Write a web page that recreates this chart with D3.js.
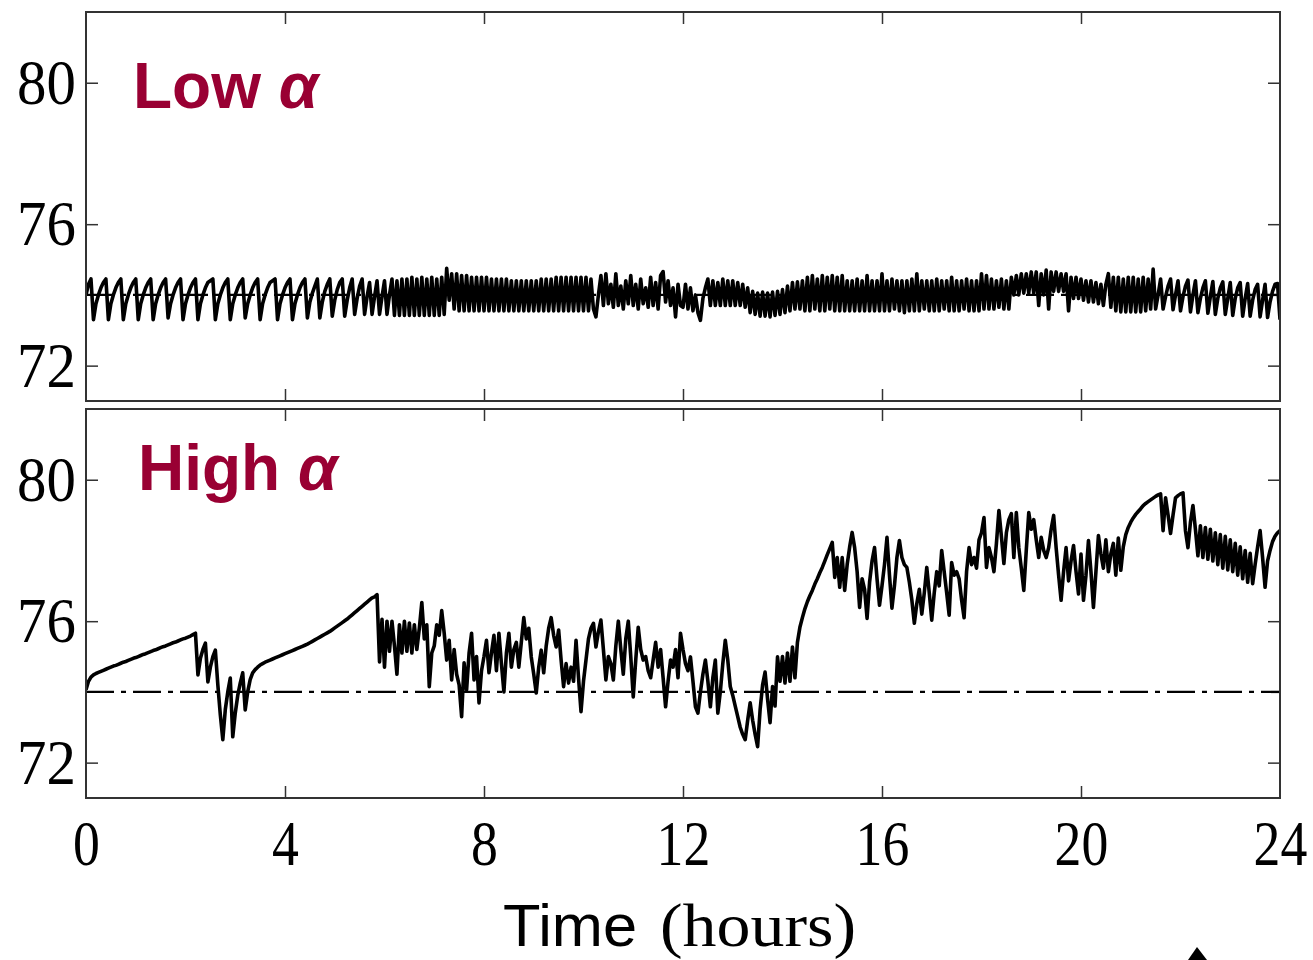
<!DOCTYPE html>
<html>
<head>
<meta charset="utf-8">
<script src="https://cdn.jsdelivr.net/npm/d3@7"></script>
<style>
body { margin: 0; background: #fff; }
.frame { fill: none; stroke: #333; stroke-width: 2; }
.axis path { display: none; }
.axis line { stroke: #333; stroke-width: 1.5; }
.axis text { font-family: "Liberation Serif", "Times New Roman", serif; font-size: 64px; fill: #000; }
.series { fill: none; stroke: #000; stroke-width: 3.6; stroke-linejoin: round; }
.ref { stroke: #000; stroke-width: 2.4; stroke-dasharray: 28, 7, 5, 7; }
.tag { font-family: "Liberation Sans", Arial, sans-serif; font-weight: bold; font-size: 64px; fill: #990033; }
</style>
</head>
<body>
<svg></svg>
<script>
var width = 1313,
    height = 960,
    left = 86,
    right = 1280,
    panelHeight = 389;

// one sample every 0.05 h, one row per hour
var sampleStep = 0.05;
var hourTicks = [0, 4, 8, 12, 16, 20, 24];
var tempTicks = [72, 76, 80];
var setpoint = 74;

var lowAlpha = [
  74.0,74.3,74.45,73.3,73.75,74.0,74.2,74.35,74.45,73.3,73.75,74.0,74.2,74.35,74.45,73.3,73.75,74.0,74.2,74.35,
  74.45,73.3,73.75,74.0,74.2,74.35,74.45,73.3,73.75,74.0,74.2,74.35,74.45,73.35,73.75,74.0,74.2,74.35,74.45,73.3,
  73.75,74.0,74.2,74.35,74.45,73.3,73.75,74.0,74.2,74.35,74.4,74.45,73.3,73.75,74.0,74.2,74.35,74.45,73.3,73.75,
  74.0,74.2,74.35,74.45,73.35,73.75,74.0,74.2,74.35,74.45,73.3,73.75,74.0,74.2,74.35,74.4,74.45,73.3,73.75,74.0,
  74.2,74.35,74.45,73.3,73.75,74.0,74.2,74.35,74.45,73.35,73.8,74.05,74.25,74.45,73.35,73.8,74.1,74.3,74.45,73.4,
  73.85,74.15,74.35,74.45,73.4,73.85,74.2,74.45,73.45,73.9,74.25,74.45,73.45,73.95,74.35,73.45,73.95,74.4,73.45,73.95,
  74.4,73.45,74.0,74.45,73.42,74.4,73.42,74.45,73.42,74.45,73.42,74.5,73.42,74.45,73.42,74.5,73.42,74.45,73.42,74.5,
  73.42,74.45,73.42,74.5,73.45,74.75,73.85,74.6,73.6,74.6,73.55,74.55,73.55,74.55,73.55,74.5,73.55,74.5,73.55,74.5,
  73.55,74.5,73.55,74.45,73.55,74.45,73.55,74.45,73.55,74.45,73.55,74.4,73.55,74.4,73.55,74.4,73.55,74.4,73.55,74.4,
  73.55,74.4,73.55,74.45,73.55,74.45,73.55,74.45,73.55,74.5,73.55,74.5,73.55,74.5,73.55,74.5,73.55,74.5,73.55,74.5,
  73.55,74.5,73.55,74.45,73.6,73.38,74.0,74.55,73.7,74.6,73.75,74.3,73.65,74.6,73.7,74.25,73.6,74.4,73.75,74.55,
  73.7,74.3,73.6,74.45,73.75,74.2,73.65,74.5,73.7,74.35,73.6,74.55,74.66,73.8,74.4,73.7,74.2,73.38,74.3,73.7,
  73.65,74.3,73.6,74.2,73.55,74.0,73.5,73.28,73.9,74.2,74.45,73.7,74.4,73.7,74.35,73.7,74.45,73.7,74.4,73.7,
  74.4,73.7,74.35,73.7,74.3,73.65,74.2,73.5,74.1,73.45,74.05,73.4,74.08,73.4,74.05,73.38,74.08,73.42,74.1,73.45,
  74.15,73.5,74.25,73.55,74.35,73.6,74.37,73.6,74.4,73.55,74.5,73.55,74.55,73.6,74.45,73.55,74.55,73.55,74.5,73.6,
  74.55,73.55,74.5,73.55,74.55,73.55,74.4,73.55,74.4,73.55,74.45,73.55,74.4,73.55,74.55,73.55,74.4,73.55,74.4,73.55,
  74.6,73.55,74.4,73.55,74.45,73.6,74.4,73.55,74.4,73.5,74.4,73.55,74.45,73.55,74.6,73.55,74.4,73.6,74.4,73.55,
  74.4,73.55,74.45,73.55,74.4,73.6,74.4,73.55,74.5,73.55,74.4,73.55,74.4,73.6,74.45,73.55,74.4,73.55,74.4,73.55,
  74.6,73.6,74.55,73.6,74.45,73.6,74.4,73.65,74.45,73.6,74.4,73.6,74.5,74.0,74.55,74.0,74.6,74.05,74.6,74.05,
  74.65,74.05,74.65,73.7,74.6,74.0,74.7,73.6,74.65,74.1,74.65,74.1,74.6,74.1,74.6,73.55,74.5,73.9,74.5,73.9,
  74.45,73.85,74.4,73.8,74.4,73.8,74.35,73.75,74.3,73.7,74.3,74.6,73.65,74.5,73.55,74.5,73.52,74.45,73.52,74.5,
  73.52,74.5,73.52,74.45,73.52,74.5,73.55,74.45,73.6,74.73,73.6,74.0,74.45,73.6,73.95,74.25,74.45,73.58,74.0,74.4,
  73.55,73.95,74.25,74.42,73.52,74.0,74.4,73.5,73.9,74.2,74.4,73.48,73.95,74.38,73.45,73.9,74.2,74.37,73.45,73.9,
  74.35,73.42,73.9,74.2,74.35,73.4,73.9,74.32,73.4,73.85,74.15,74.3,73.38,73.85,74.3,73.36,73.8,74.1,74.3,74.32,
  73.3
];

var highAlpha = [
  74.06,74.3,74.42,74.48,74.52,74.55,74.58,74.61,74.64,74.67,74.7,74.73,74.75,74.78,74.81,74.84,74.86,74.89,74.92,74.95,
  74.97,75.0,75.03,75.06,75.08,75.11,75.14,75.17,75.19,75.22,75.25,75.28,75.3,75.33,75.36,75.39,75.41,75.44,75.47,75.5,
  75.52,75.55,75.58,75.62,75.66,74.48,74.95,75.2,75.38,74.28,74.7,75.0,75.18,74.2,73.35,72.65,73.5,74.0,74.39,72.73,
  73.4,73.9,74.25,74.54,73.49,74.0,74.35,74.54,74.63,74.7,74.76,74.8,74.84,74.87,74.9,74.93,74.96,74.99,75.02,75.05,
  75.08,75.11,75.14,75.17,75.2,75.23,75.26,75.29,75.32,75.35,75.39,75.43,75.47,75.51,75.55,75.59,75.63,75.67,75.71,75.76,
  75.81,75.86,75.91,75.96,76.01,76.06,76.12,76.18,76.24,76.3,76.36,76.42,76.48,76.54,76.6,76.66,76.69,76.75,74.85,76.05,
  74.7,76.0,75.15,76.0,75.3,74.5,75.9,75.1,76.0,75.15,75.95,75.1,75.9,75.2,75.8,76.53,75.5,75.9,74.15,75.1,
  75.3,75.9,75.6,76.3,75.66,74.9,75.46,74.34,75.2,74.5,74.2,73.3,74.82,74.06,75.1,75.66,74.34,75.0,73.69,74.6,
  75.0,75.46,74.54,75.1,75.6,74.6,75.66,74.8,74.0,75.1,75.66,74.7,75.2,75.4,74.7,75.4,76.1,75.5,75.8,74.99,
  74.5,73.97,74.7,75.18,74.54,75.3,75.8,76.1,75.6,75.27,75.75,74.9,74.15,74.8,74.25,74.7,74.3,75.46,74.4,73.44,
  74.3,74.9,75.5,75.8,75.94,75.27,75.7,76.03,75.2,74.34,75.0,74.8,74.34,75.3,76.0,75.2,74.5,75.5,76.0,75.0,
  73.86,74.9,75.83,75.2,74.9,75.0,74.6,74.4,74.9,75.4,74.7,75.2,74.4,73.58,74.3,74.9,74.7,75.2,74.4,75.66,
  75.2,74.8,74.6,74.99,74.3,73.58,73.4,74.0,74.5,74.9,74.3,73.58,74.4,74.9,73.4,74.0,74.8,75.46,74.9,74.15,
  73.9,73.6,73.3,73.0,72.8,72.65,73.2,73.69,73.2,72.8,72.45,73.5,74.2,74.56,73.8,73.13,74.15,73.6,74.99,74.3,
  75.0,74.25,75.1,74.3,75.27,74.4,75.4,75.83,76.1,76.35,76.55,76.72,76.87,77.05,77.2,77.37,77.52,77.7,77.88,78.05,
  78.23,77.24,77.8,76.96,77.8,76.87,77.6,78.1,78.51,78.08,77.4,76.39,77.2,76.9,76.08,77.1,77.7,78.08,77.2,76.45,
  77.0,77.6,78.37,77.3,76.37,77.0,77.8,78.28,77.8,77.6,77.52,77.1,76.6,75.94,76.5,76.9,76.2,76.8,77.52,76.8,
  76.03,76.8,77.4,77.0,78.0,77.4,76.8,76.17,77.66,77.3,77.4,77.2,76.6,76.1,77.4,78.08,77.6,77.8,77.5,78.3,
  78.5,78.93,77.52,78.08,77.8,77.4,78.2,79.13,78.4,77.63,78.5,78.87,79.04,77.8,79.07,78.08,77.5,76.87,78.0,79.07,
  78.6,78.87,78.3,77.8,78.37,78.0,77.8,78.08,78.6,78.99,78.08,77.3,76.59,77.4,78.08,77.14,77.7,78.14,77.4,76.77,
  77.9,76.59,77.3,78.28,77.4,76.39,77.4,78.42,77.9,77.5,78.3,77.4,77.9,78.2,77.3,78.35,77.44,78.1,78.45,78.65,
  78.8,78.92,79.02,79.1,79.18,79.27,79.33,79.38,79.43,79.48,79.53,79.57,79.6,78.56,79.49,79.0,78.48,79.0,79.49,79.55,
  79.6,79.63,78.56,78.08,78.8,79.27,78.6,77.85,78.7,77.8,78.65,77.75,78.6,77.7,78.5,77.6,78.45,77.5,78.4,77.45,
  78.3,77.4,78.2,77.3,78.1,77.2,78.0,77.1,77.92,77.06,77.6,78.1,78.56,77.8,76.96,77.7,78.0,78.25,78.4,78.5,
  78.56
];

var panels = [
  { top: 12, values: lowAlpha, tag: "Low", tagX: 133, tagY: 108, labels: false },
  { top: 409, values: highAlpha, tag: "High", tagX: 138, tagY: 490, labels: true }
];

var svg = d3.select("svg")
    .attr("width", width)
    .attr("height", height);

svg.append("rect")
    .attr("width", width)
    .attr("height", height)
    .attr("fill", "#fff");

var x = d3.scaleLinear()
    .domain([0, 24])
    .range([left, right]);

panels.forEach(function (p, k) {
    var y = d3.scaleLinear()
        .domain([71, 82])
        .range([p.top + panelHeight, p.top]);

    var g = svg.append("g");

    g.append("clipPath")
        .attr("id", "clip" + k)
        .append("rect")
        .attr("x", left)
        .attr("y", p.top)
        .attr("width", right - left)
        .attr("height", panelHeight);

    var inner = g.append("g").attr("clip-path", "url(#clip" + k + ")");

    inner.append("line")
        .attr("class", "ref")
        .attr("x1", x(0))
        .attr("x2", x(24))
        .attr("y1", y(setpoint))
        .attr("y2", y(setpoint));

    var line = d3.line()
        .x((d, i) => x(i * sampleStep))
        .y(d => y(d));

    inner.append("path")
        .datum(p.values)
        .attr("class", "series")
        .attr("d", line);

    // ticks point inward on all four sides
    g.append("g")
        .attr("class", "axis")
        .attr("transform", "translate(" + left + ",0)")
        .call(d3.axisLeft(y).tickValues(tempTicks).tickSize(-12).tickPadding(11))
        .selectAll("text")
        .attr("transform", "scale(0.92,1)");

    g.append("g")
        .attr("class", "axis")
        .attr("transform", "translate(" + right + ",0)")
        .call(d3.axisRight(y).tickValues(tempTicks).tickSize(-12).tickFormat(""));

    g.append("g")
        .attr("class", "axis")
        .attr("transform", "translate(0," + p.top + ")")
        .call(d3.axisTop(x).tickValues(hourTicks.slice(1, -1)).tickSize(-12).tickFormat(""));

    var bottom = g.append("g")
        .attr("class", "axis")
        .attr("transform", "translate(0," + (p.top + panelHeight) + ")")
        .call(d3.axisBottom(x).tickValues(p.labels ? hourTicks : hourTicks.slice(1, -1))
            .tickSize(-12).tickPadding(22).tickFormat(p.labels ? d3.format("d") : ""));

    bottom.selectAll("text").attr("transform", "scale(0.84,1)");
    bottom.selectAll(".tick")
        .filter(d => d === 0 || d === 24)
        .select("line").remove();

    g.append("rect")
        .attr("class", "frame")
        .attr("x", left)
        .attr("y", p.top)
        .attr("width", right - left)
        .attr("height", panelHeight);

    var tag = g.append("text")
        .attr("class", "tag")
        .attr("x", p.tagX)
        .attr("y", p.tagY);
    tag.append("tspan").text(p.tag + " ");
    tag.append("tspan").attr("font-style", "italic").text("α");
});

svg.append("text")
    .attr("x", 503)
    .attr("y", 946)
    .attr("font-family", "'Liberation Sans', Arial, sans-serif")
    .attr("font-size", 60)
    .attr("textLength", 134)
    .attr("lengthAdjust", "spacingAndGlyphs")
    .text("Time");

svg.append("text")
    .attr("x", 660)
    .attr("y", 946)
    .attr("font-family", "'Liberation Serif', 'Times New Roman', serif")
    .attr("font-size", 62)
    .attr("textLength", 196)
    .attr("lengthAdjust", "spacingAndGlyphs")
    .text("(hours)");

// small mark cut off at the lower right edge of the source image
svg.append("path")
    .attr("d", "M1197,947L1188,960L1207,960Z")
    .attr("fill", "#000");
</script>
</body>
</html>
